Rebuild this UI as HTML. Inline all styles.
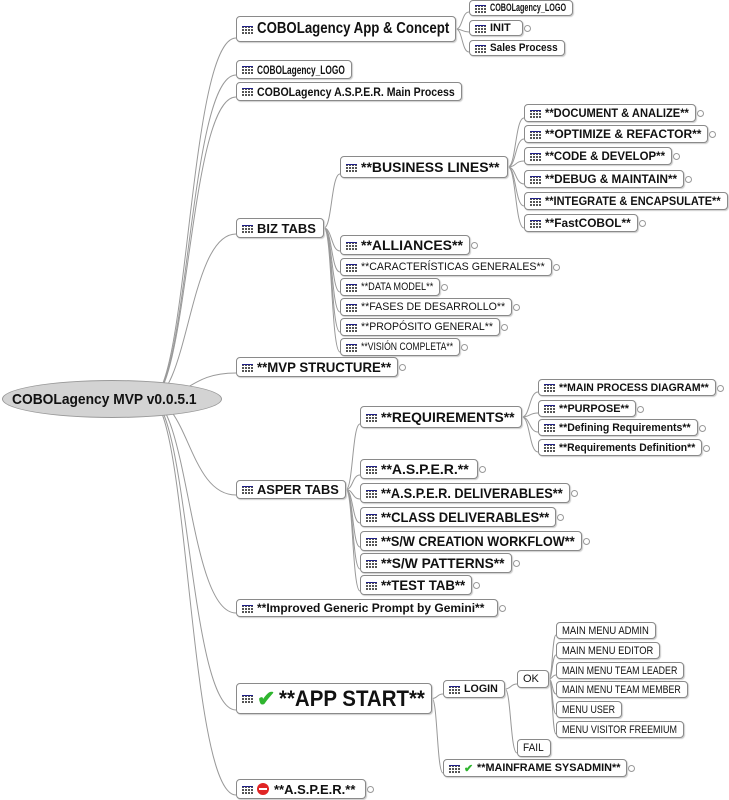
<!DOCTYPE html>
<html><head><meta charset="utf-8">
<style>
html,body{margin:0;padding:0;background:#fff;width:729px;height:800px;overflow:hidden;position:relative}
.n{position:absolute;box-sizing:border-box;border:1px solid #8a8a8a;border-radius:4px;background:#fff;
 font-family:"Liberation Sans",sans-serif;color:#111;
 white-space:nowrap;overflow:hidden;display:flex;align-items:center;padding-left:5px;box-shadow:1px 1px 1px #ccc}
.b{font-weight:bold}
.t{display:inline-block;transform-origin:0 50%}
.ic{display:inline-block;width:11px;height:9px;margin-right:4px;flex:none;border-top:2px solid #22228a;
 background:repeating-linear-gradient(90deg,#555 0 2px,#fff 2px 3px);box-sizing:border-box;
 -webkit-mask:repeating-linear-gradient(0deg,#000 0 2px,transparent 2px 3px)}
.ck{color:#2fb52f;font-weight:bold;margin-right:4px;flex:none}
.no{display:inline-block;width:12px;height:12px;border-radius:50%;background:#e02525;position:relative;margin-right:5px;flex:none}
.no:after{content:"";position:absolute;left:2px;right:2px;top:5px;height:2px;background:#fff}
.fd{position:absolute;width:5px;height:5px;border:1px solid #999;border-radius:50%;background:#fff}
#root{position:absolute;left:2px;top:380px;width:220px;height:38px;border-radius:50%;background:#d3d3d3;border:1px solid #999;
 box-sizing:border-box;display:flex;align-items:center;justify-content:center;font:bold 15px "Liberation Sans",sans-serif;color:#111}
</style></head><body>
<svg id="s" width="729" height="800" style="position:absolute;left:0;top:0"></svg>
<div id="root"><span class="t" style="transform:scaleX(0.92)">COBOLagency MVP v0.0.5.1</span></div>
<div id="c"></div>
<script>
var N=[
['a','r',236,16,220,26,16,1,1,'COBOLagency App &amp; Concept',0],
['a1','a',469,0,104,16,11,1,1,'COBOLagency_LOGO',0],
['a2','a',469,20,54,16,11,1,1,'INIT',1],
['a3','a',469,40,96,16,11,1,1,'Sales Process',0],
['l','r',236,60,116,19,12,1,1,'COBOLagency_LOGO',0],
['m','r',236,82,226,19,12,1,1,'COBOLagency A.S.P.E.R. Main Process',0],
['bz','r',236,218,88,20,13,1,1,'BIZ TABS',0],
['bl','bz',340,156,168,22,14,1,1,'**BUSINESS LINES**',0],
['d1','bl',524,104,172,18,12,1,1,'**DOCUMENT &amp; ANALIZE**',1],
['d2','bl',524,125,184,18,12,1,1,'**OPTIMIZE &amp; REFACTOR**',1],
['d3','bl',524,147,148,18,12,1,1,'**CODE &amp; DEVELOP**',1],
['d4','bl',524,170,160,18,12,1,1,'**DEBUG &amp; MAINTAIN**',1],
['d5','bl',524,192,204,18,12,1,1,'**INTEGRATE &amp; ENCAPSULATE**',0],
['d6','bl',524,214,114,18,12,1,1,'**FastCOBOL**',1],
['al','bz',340,235,130,20,14,1,1,'**ALLIANCES**',1],
['c1','bz',340,258,212,18,11,0,1,'**CARACTERÍSTICAS GENERALES**',1],
['c2','bz',340,278,100,18,11,0,1,'**DATA MODEL**',1],
['c3','bz',340,298,172,18,11,0,1,'**FASES DE DESARROLLO**',1],
['c4','bz',340,318,160,18,11,0,1,'**PROPÓSITO GENERAL**',1],
['c5','bz',340,338,120,18,11,0,1,'**VISIÓN COMPLETA**',1],
['mv','r',236,357,162,20,14,1,1,'**MVP STRUCTURE**',1],
['at','r',236,480,110,19,13,1,1,'ASPER TABS',0],
['rq','at',360,406,162,22,14,1,1,'**REQUIREMENTS**',0],
['r1','rq',538,379,178,17,11,1,1,'**MAIN PROCESS DIAGRAM**',1],
['r2','rq',538,400,98,17,11,1,1,'**PURPOSE**',1],
['r3','rq',538,419,160,17,11,1,1,'**Defining Requirements**',1],
['r4','rq',538,439,164,17,11,1,1,'**Requirements Definition**',1],
['t1','at',360,459,118,20,14,1,1,'**A.S.P.E.R.**',1],
['t2','at',360,483,210,20,14,1,1,'**A.S.P.E.R. DELIVERABLES**',1],
['t3','at',360,507,196,20,14,1,1,'**CLASS DELIVERABLES**',1],
['t4','at',360,531,222,20,14,1,1,'**S/W CREATION WORKFLOW**',1],
['t5','at',360,553,152,20,14,1,1,'**S/W PATTERNS**',1],
['t6','at',360,575,112,20,14,1,1,'**TEST TAB**',1],
['ip','r',236,599,262,18,12,1,1,'**Improved Generic Prompt by Gemini**',1],
['as','r',236,683,196,31,22,1,2,'**APP START**',0],
['lg','as',443,680,62,18,11,1,1,'LOGIN',0],
['ok','lg',517,670,32,18,11,0,0,'OK',0],
['o1','ok',556,622,100,17,11,0,0,'MAIN MENU ADMIN',0],
['o2','ok',556,642,104,17,11,0,0,'MAIN MENU EDITOR',0],
['o3','ok',556,662,128,17,11,0,0,'MAIN MENU TEAM LEADER',0],
['o4','ok',556,681,132,17,11,0,0,'MAIN MENU TEAM MEMBER',0],
['o5','ok',556,701,66,17,11,0,0,'MENU USER',0],
['o6','ok',556,721,128,17,11,0,0,'MENU VISITOR FREEMIUM',0],
['fl','lg',517,739,34,18,11,0,0,'FAIL',0],
['mf','as',443,759,184,18,11,1,2,'**MAINFRAME SYSADMIN**',1],
['ap','r',236,779,130,20,13,1,3,'**A.S.P.E.R.**',1]
];
var M={},h='',p='';
N.forEach(function(n){M[n[0]]={x:n[2],y:n[3],w:n[4],h:n[5]};});
N.forEach(function(n){
 var P=M[n[1]],x1,y1;
 if(n[1]=='r'){x1=150;y1=399;}else{x1=P.x+P.w;y1=P.y+P.h/2;}
 var x2=n[2],y2=n[3]+n[5]-4,mx=(x1+x2)/2;
 if(n[1]=='r'){mx=x1+(x2-x1)*0.45;}
 p+='<path d="M'+x1+' '+y1+' C'+mx+' '+y1+' '+(x2-(x2-x1)*0.55)+' '+y2+' '+x2+' '+y2+'" fill="none" stroke="#999" stroke-width="1"/>';
 var ic=n[8]==1?'<span class="ic"></span>':n[8]==2?'<span class="ic"></span><span class="ck">✔</span>':n[8]==3?'<span class="ic"></span><span class="no"></span>':'';
 h+='<div class="n'+(n[7]?' b':'')+'" style="left:'+n[2]+'px;top:'+n[3]+'px;width:'+n[4]+'px;height:'+n[5]+'px;font-size:'+n[6]+'px">'+ic+'<span class="t">'+n[9]+'</span></div>';
 if(n[10])h+='<div class="fd" style="left:'+(n[2]+n[4]+1)+'px;top:'+(n[3]+n[5]/2-3)+'px"></div>';
});
document.getElementById('s').innerHTML=p;
document.getElementById('c').innerHTML=h;
var nodes=document.querySelectorAll('.n');
for(var i=0;i<nodes.length;i++){
 var d=nodes[i],t=d.querySelector('.t');
 var avail=d.clientWidth-5-(t.offsetLeft-d.clientLeft)-5;
 var used=t.offsetLeft;
 avail=d.clientWidth-used-6;
 var w=t.scrollWidth;
 if(w>avail){t.style.transform='scaleX('+(avail/w)+')';}
}
</script>
</body></html>
